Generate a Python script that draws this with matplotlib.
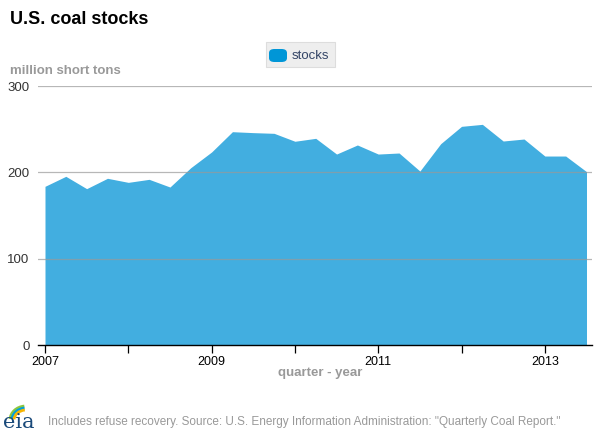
import numpy as np
import matplotlib
matplotlib.use("Agg")
import matplotlib.pyplot as plt
from matplotlib.patches import FancyBboxPatch, Arc

plt.rcParams["font.family"] = ["Liberation Sans", "DejaVu Sans"]

# quarterly U.S. coal stocks, million short tons, 2007Q1 .. 2013Q3
quarters = np.arange(2007, 2013.75, 0.25)
stocks = [183.8, 195.4, 181.1, 193.1, 188.4, 191.9, 183.0, 205.4,
          223.6, 247.1, 246.0, 245.2, 236.0, 239.4, 221.2, 231.7,
          221.2, 222.4, 201.5, 233.2, 253.3, 255.6, 236.3, 238.6,
          218.9, 218.9, 200.8]
year_ticks = list(range(2007, 2014))
year_labels = ["2007", "", "2009", "", "2011", "", "2013"]
y_ticks = [0, 100, 200, 300]

fig = plt.figure(figsize=(6, 4.36), dpi=100)
ax = fig.add_axes([38 / 600, 0.2087, 554 / 600, 0.594])

ax.fill_between(quarters, stocks, 0, color="#42aee0", lw=0, zorder=1)
for yv in y_ticks[1:]:
    ax.axhline(yv, color="#999999", lw=0.9, alpha=0.7, zorder=2)

ax.set_xlim(2006.916, 2013.566)
ax.set_ylim(0, 300)
ax.set_xticks(year_ticks)
ax.set_xticklabels(year_labels, fontsize=9)
ax.set_yticks(y_ticks)
ax.set_yticklabels([str(v) for v in y_ticks], fontsize=9.5, color="#333333")
for s in ["top", "right", "left"]:
    ax.spines[s].set_visible(False)
ax.spines["bottom"].set_color("black")
ax.spines["bottom"].set_linewidth(1.0)
ax.spines["bottom"].set_zorder(3)
ax.tick_params(axis="x", length=6, width=0.9, direction="out", pad=2)
ax.tick_params(axis="y", length=0, pad=6)

fig.text(10 / 600, 1 - 20 / 436, "U.S. coal stocks", fontsize=13, fontweight="bold",
         va="center", ha="left", color="black")
fig.text(10 / 600, 1 - 71 / 436, "million short tons", fontsize=9.5, fontweight="bold",
         va="center", ha="left", color="#999999")
fig.text(320 / 600, 1 - 373 / 436, "quarter - year", fontsize=9.5, fontweight="bold",
         va="center", ha="center", color="#999999")
fig.text(48 / 600, 1 - 422 / 436,
         'Includes refuse recovery. Source: U.S. Energy Information Administration: "Quarterly Coal Report."',
         fontsize=8.5, va="center", ha="left", color="#999999")

# legend box
fig.patches.append(FancyBboxPatch((266 / 600, 1 - 67 / 436), 69 / 600, 25 / 436,
                                  boxstyle="square,pad=0", transform=fig.transFigure,
                                  facecolor="#eeeeee", edgecolor="#dddddd", lw=0.8))
fig.patches.append(FancyBboxPatch((269 / 600, 1 - 62 / 436), 18 / 600, 13 / 436,
                                  boxstyle="round,pad=0,rounding_size=0.009",
                                  transform=fig.transFigure,
                                  facecolor="#0096d7", edgecolor="none"))
fig.text(292 / 600, 1 - 56 / 436, "stocks", fontsize=9.5, va="center", ha="left",
         color="#334466")

# eia logo
fig.text(3 / 600, 1 - 422 / 436, "eia", fontsize=15, family="DejaVu Serif",
         va="center", ha="left", color="#1a4a7a")
for i, c in enumerate(["#8dc63f", "#00a0dc", "#f7b500"]):
    fig.patches.append(Arc((26 / 600, 1 - 420 / 436), (32 - 4 * i) / 600, (28 - 4 * i) / 436,
                           theta1=95, theta2=175, transform=fig.transFigure,
                           color=c, lw=2))

fig.savefig("out.png", dpi=100)
